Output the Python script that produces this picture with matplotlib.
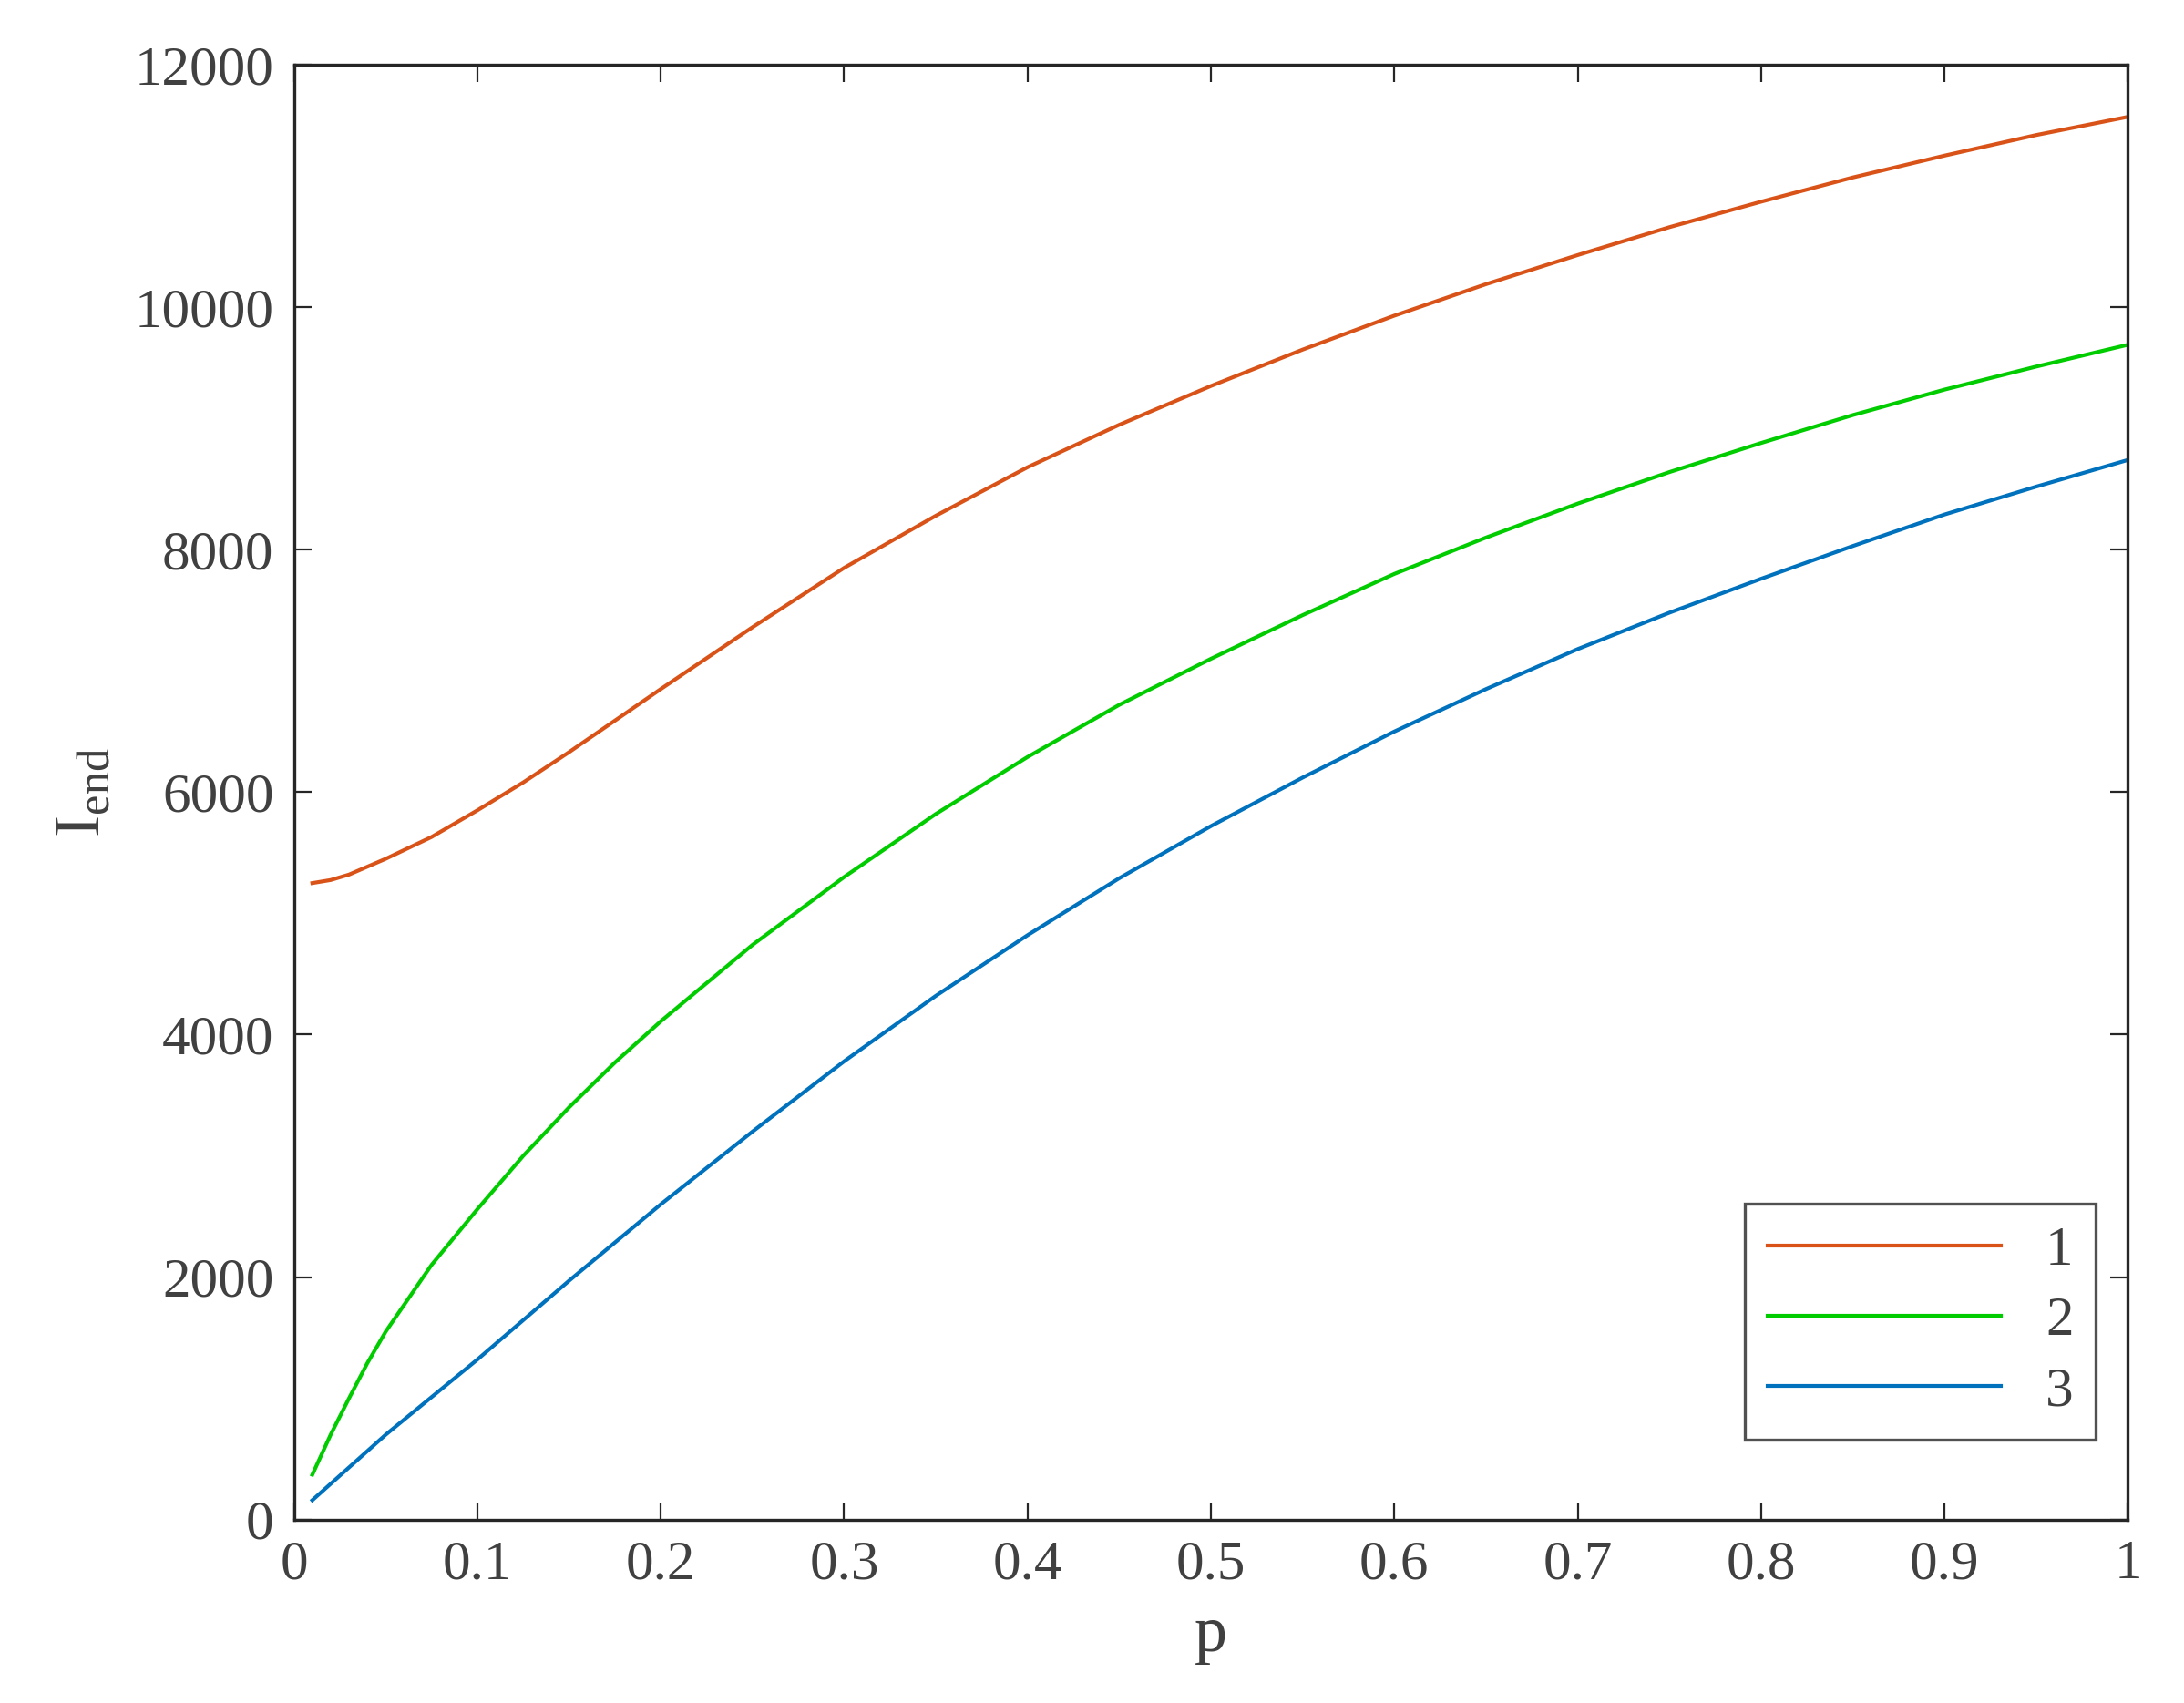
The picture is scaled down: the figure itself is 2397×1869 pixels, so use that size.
import matplotlib
matplotlib.use("Agg")
import matplotlib.pyplot as plt

p1 = [0.01, 0.02, 0.03, 0.05, 0.075, 0.1, 0.125, 0.15, 0.175, 0.2, 0.25, 0.3, 0.35, 0.4, 0.45, 0.5, 0.55, 0.6, 0.65, 0.7, 0.75, 0.8, 0.85, 0.9, 0.95, 1.0]
y1 = [5250, 5275, 5320, 5450, 5630, 5850, 6080, 6330, 6590, 6850, 7360, 7850, 8280, 8680, 9030, 9350, 9650, 9930, 10190, 10430, 10660, 10870, 11070, 11250, 11420, 11570]
p2 = [0.01, 0.02, 0.03, 0.04, 0.05, 0.075, 0.1, 0.125, 0.15, 0.175, 0.2, 0.25, 0.3, 0.35, 0.4, 0.45, 0.5, 0.55, 0.6, 0.65, 0.7, 0.75, 0.8, 0.85, 0.9, 0.95, 1.0]
y2 = [370, 700, 1000, 1290, 1550, 2100, 2560, 3000, 3400, 3770, 4110, 4740, 5300, 5820, 6290, 6720, 7100, 7460, 7800, 8100, 8380, 8640, 8880, 9110, 9320, 9510, 9690]
p3 = [0.01, 0.05, 0.1, 0.15, 0.2, 0.25, 0.3, 0.35, 0.4, 0.45, 0.5, 0.55, 0.6, 0.65, 0.7, 0.75, 0.8, 0.85, 0.9, 0.95, 1.0]
y3 = [160, 700, 1320, 1970, 2600, 3200, 3780, 4320, 4820, 5290, 5720, 6120, 6500, 6850, 7180, 7480, 7760, 8030, 8290, 8520, 8740]
labels = ["1", "2", "3"]
colors = ["#D95319", "#00CC00", "#0072BD"]

plt.rcParams['font.family'] = ['Liberation Serif']
txt = "#404040"
fig = plt.figure(figsize=(11.985, 9.345), dpi=200)
ax = fig.add_axes([0.1346, 0.1077, 0.8397, 0.8543])
for x, y, l, c in zip([p1, p2, p3], [y1, y2, y3], labels, colors):
    ax.plot(x, y, color=c, lw=1.5, label=l)
ax.set_xlim(0, 1)
ax.set_ylim(0, 12000)
ax.set_xticks([i / 10 for i in range(11)])
ax.set_xticklabels(["0"] + [f"{i/10:.1f}" for i in range(1, 10)] + ["1"])
ax.set_yticks(range(0, 12001, 2000))
ax.tick_params(direction='in', top=True, right=True, labelsize=22, colors="#262626", labelcolor=txt, length=7, pad=8)
for s in ax.spines.values():
    s.set_color("#262626")
    s.set_linewidth(1.2)
ax.set_xlabel("p", fontsize=26, color=txt, labelpad=6)
ax.set_ylabel(r"I$_{\mathregular{end}}$", fontsize=26, color=txt, labelpad=8)
leg = ax.legend(loc='lower right', bbox_to_anchor=(0.9825, 0.055), fontsize=22, fancybox=False,
                edgecolor="#262626", handlelength=4.2, labelcolor=txt, borderaxespad=0,
                labelspacing=0.35, borderpad=0.4)
leg.get_frame().set_linewidth(1.2)
fig.savefig("out.png")
